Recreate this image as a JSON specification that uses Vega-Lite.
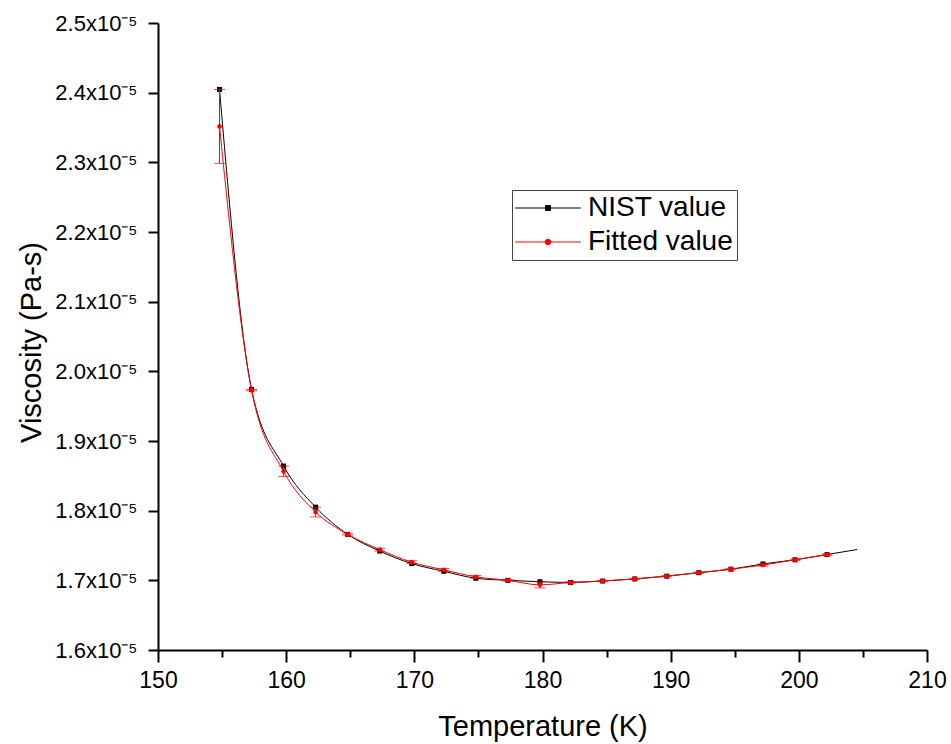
{
  "$schema": "https://vega.github.io/schema/vega-lite/v6.json",
  "width": 769,
  "height": 627,
  "autosize": {"type": "none"},
  "padding": {"left": 158, "top": 23, "right": 24, "bottom": 94},
  "background": "white",
  "config": {"view": {"stroke": null}, "font": "Liberation Sans"},
  "data": {
    "values": [
      {"T": 154.8, "nist": 2.4046e-5, "fit": 2.3515e-5, "err": 0.053e-5},
      {"T": 157.3, "nist": 1.974e-5, "fit": 1.973e-5, "err": 0.001e-5},
      {"T": 159.8, "nist": 1.864e-5, "fit": 1.8565e-5, "err": 0.0075e-5},
      {"T": 162.3, "nist": 1.805e-5, "fit": 1.798e-5, "err": 0.007e-5},
      {"T": 164.8, "nist": 1.766e-5, "fit": 1.766e-5, "err": 0.001e-5},
      {"T": 167.3, "nist": 1.742e-5, "fit": 1.744e-5, "err": 0.002e-5},
      {"T": 169.8, "nist": 1.724e-5, "fit": 1.726e-5, "err": 0.002e-5},
      {"T": 172.3, "nist": 1.713e-5, "fit": 1.715e-5, "err": 0.002e-5},
      {"T": 174.8, "nist": 1.703e-5, "fit": 1.705e-5, "err": 0.002e-5},
      {"T": 177.3, "nist": 1.7e-5, "fit": 1.7e-5, "err": 0.001e-5},
      {"T": 179.8, "nist": 1.698e-5, "fit": 1.6935e-5, "err": 0.0045e-5},
      {"T": 182.2, "nist": 1.697e-5, "fit": 1.697e-5, "err": 0.001e-5},
      {"T": 184.7, "nist": 1.699e-5, "fit": 1.699e-5, "err": 0.001e-5},
      {"T": 187.2, "nist": 1.702e-5, "fit": 1.702e-5, "err": 0.001e-5},
      {"T": 189.7, "nist": 1.706e-5, "fit": 1.706e-5, "err": 0.001e-5},
      {"T": 192.2, "nist": 1.711e-5, "fit": 1.711e-5, "err": 0.001e-5},
      {"T": 194.7, "nist": 1.716e-5, "fit": 1.716e-5, "err": 0.001e-5},
      {"T": 197.2, "nist": 1.7235e-5, "fit": 1.722e-5, "err": 0.0015e-5},
      {"T": 199.7, "nist": 1.7295e-5, "fit": 1.7295e-5, "err": 0.001e-5},
      {"T": 202.2, "nist": 1.737e-5, "fit": 1.737e-5, "err": 0.001e-5},
      {"T": 204.55, "nist": 1.7442e-5, "fit": null, "err": null}
    ]
  },
  "encoding": {
    "x": {
      "field": "T",
      "type": "quantitative",
      "scale": {"domain": [150, 210], "nice": false, "zero": false},
      "axis": {
        "values": [150, 155, 160, 165, 170, 175, 180, 185, 190, 195, 200, 205, 210],
        "labelExpr": "datum.value % 10 == 0 ? datum.label : ''",
        "title": "Temperature (K)",
        "titleFont": "Liberation Sans",
        "titleFontSize": 29,
        "titleFontWeight": "normal",
        "titleColor": "black",
        "titleBaseline": "alphabetic",
        "titleY": 85,
        "labelFont": "Liberation Sans",
        "labelFontSize": 23,
        "labelColor": "black",
        "labelPadding": 7,
        "labelFlush": false,
        "labelOverlap": false,
        "tickSize": {"condition": {"test": "datum.value % 10 == 0", "value": 12}, "value": 7},
        "tickWidth": 2,
        "tickColor": "black",
        "domainColor": "black",
        "domainWidth": 2,
        "grid": false
      }
    }
  },
  "layer": [
    {
      "mark": {"type": "line", "interpolate": "monotone", "strokeWidth": 1},
      "encoding": {
        "y": {
          "field": "nist",
          "type": "quantitative",
          "title": "Viscosity (Pa-s)",
          "scale": {"domain": [1.6e-5, 2.5e-5], "nice": false, "zero": false},
          "axis": {
            "values": [1.6e-5, 1.65e-5, 1.7e-5, 1.75e-5, 1.8e-5, 1.85e-5, 1.9e-5, 1.95e-5, 2.0e-5, 2.05e-5, 2.1e-5, 2.15e-5, 2.2e-5, 2.25e-5, 2.3e-5, 2.35e-5, 2.4e-5, 2.45e-5, 2.5e-5],
            "labelExpr": "round(datum.value * 2e6) % 2 == 0 ? format(datum.value * 1e5, '.1f') + 'x10⁻⁵' : ''",
            "title": "Viscosity (Pa-s)",
            "titleFont": "Liberation Sans",
            "titleFontSize": 29,
            "titleFontWeight": "normal",
            "titleColor": "black",
            "titleBaseline": "alphabetic",
            "titleX": -118,
            "titleY": 319,
            "labelFont": "Liberation Sans",
            "labelFontSize": 22,
            "labelColor": "black",
            "labelPadding": 11,
            "labelFlush": false,
            "labelOverlap": false,
            "tickSize": {"condition": {"test": "round(datum.value * 2e6) % 2 == 0", "value": 10}, "value": 5},
            "tickWidth": 2,
            "tickColor": "black",
            "domainColor": "black",
            "domainWidth": 2,
            "grid": false
          }
        },
        "color": {
          "datum": "NIST value",
          "scale": {"domain": ["NIST value", "Fitted value"], "range": ["black", "red"]},
          "legend": {
            "orient": "none",
            "legendX": 354,
            "legendY": 167,
            "title": null,
            "labelFont": "Liberation Sans",
            "labelFontSize": 28,
            "labelColor": "black",
            "padding": 4,
            "strokeColor": "#444444",
            "fillColor": "white",
            "symbolSize": 64,
            "symbolOffset": 18,
            "labelOffset": 26,
            "rowPadding": 6,
            "symbolStrokeWidth": 1,
            "encode": {
              "symbols": {
                "update": {
                  "shape": {"signal": "datum.value === 'NIST value' ? 'M-8.2,0H8.2M-0.625,-0.625H0.625V0.625H-0.625Z' : 'M-8.2,0H8.2M0.7,0A0.7,0.7,0,1,1,-0.7,0A0.7,0.7,0,1,1,0.7,0Z'"},
                  "fill": {"signal": "datum.value === 'NIST value' ? 'black' : 'red'"},
                  "stroke": {"signal": "datum.value === 'NIST value' ? 'black' : 'red'"},
                  "strokeWidth": {"value": 1},
                  "size": {"value": 64},
                  "opacity": {"value": 1},
                  "fillOpacity": {"value": 1},
                  "strokeOpacity": {"value": 1}
                }
              }
            }
          }
        }
      }
    },
    {
      "transform": [{"filter": "datum.fit != null"}],
      "mark": {"type": "point", "shape": "square", "filled": true, "size": 25, "opacity": 1},
      "encoding": {
        "y": {"field": "nist", "type": "quantitative", "title": "Viscosity (Pa-s)"},
        "color": {"datum": "NIST value"}
      }
    },
    {
      "transform": [{"filter": "datum.fit != null"}],
      "mark": {"type": "errorbar", "ticks": {"size": 11}, "thickness": 1, "color": "red"},
      "encoding": {
        "y": {"field": "fit", "type": "quantitative", "title": "Viscosity (Pa-s)"},
        "yError": {"field": "err"}
      }
    },
    {
      "transform": [{"filter": "datum.fit != null"}],
      "mark": {"type": "line", "interpolate": "monotone", "strokeWidth": 1},
      "encoding": {
        "y": {"field": "fit", "type": "quantitative", "title": "Viscosity (Pa-s)"},
        "color": {"datum": "Fitted value"}
      }
    },
    {
      "transform": [{"filter": "datum.fit != null"}],
      "mark": {"type": "point", "shape": "circle", "filled": true, "size": 22, "opacity": 1},
      "encoding": {
        "y": {"field": "fit", "type": "quantitative", "title": "Viscosity (Pa-s)"},
        "color": {"datum": "Fitted value"}
      }
    }
  ]
}
